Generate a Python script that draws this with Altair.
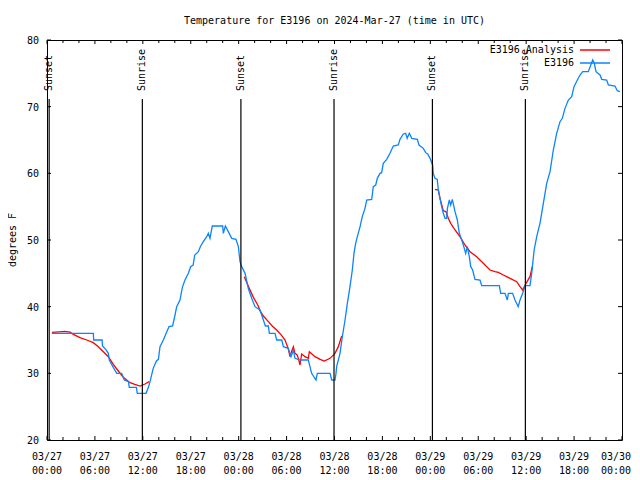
import altair as alt
import pandas as pd

# ---------------- data ----------------
obs_hours = [0.6, 5.8, 5.85, 6.9, 6.95, 7.35, 7.68, 7.8, 8.3, 8.73, 9.35, 9.68, 10.2, 10.3, 11.2, 11.3,
             12.4, 12.7, 12.9, 13.3, 13.7, 13.95, 14.15, 14.57, 15.0, 15.28, 15.73, 16.03, 16.24, 16.65,
             16.95, 17.28, 17.7, 17.99, 18.3, 18.5, 18.95, 19.24, 19.57, 20.0, 20.2, 20.41, 20.7, 22.0,
             22.08, 22.33, 22.7, 23.13, 23.66, 23.96, 24.17, 24.38, 24.8, 25.2, 25.63, 26.05, 26.67,
             27.09, 27.35, 27.72, 27.84, 28.55, 28.76, 29.4, 29.6, 30.2, 30.55, 30.85, 31.05, 31.68,
             32.72, 33.14, 33.68, 33.85, 35.44, 35.65, 36.06, 36.19, 36.27, 36.69, 36.98, 37.32, 37.61,
             37.94, 38.23, 38.44, 38.65, 38.86, 39.2, 39.48, 39.82, 40.03, 40.66, 40.86, 41.16, 41.36,
             41.7, 41.9, 42.11, 42.54, 42.95, 43.36, 43.99, 44.2, 44.62, 44.91, 45.1, 45.37, 45.67,
             46.37, 46.58, 47.12, 47.42, 47.67, 47.96, 48.29, 48.37, 48.58, 48.87, 49.0, 49.21, 49.42,
             49.62, 49.84, 50.05, 50.14, 50.38, 50.55, 50.76, 51.09, 51.38, 51.63, 51.93, 52.13, 52.43,
             52.63, 52.88, 53.06, 53.3, 53.59, 54.22, 54.43, 56.64, 56.81, 57.35, 57.64, 57.77, 58.3,
             58.6, 59.0, 59.23, 59.56, 59.85, 60.48, 60.69, 61.0, 61.32, 61.73, 62.15, 62.57, 62.99,
             63.4, 63.82, 64.24, 64.53, 64.86, 65.28, 65.7, 65.99, 66.41, 66.74, 67.08, 67.78, 68.33,
             68.53, 68.75, 69.25, 69.46, 70.08, 70.29, 71.12, 71.41, 71.74]
obs_temps = [36.0, 36.0, 35.0, 35.0, 34.1, 33.6, 33.0, 32.0, 30.9, 30.0, 30.0, 29.0, 28.75, 27.9, 27.9, 27.0,
             27.0, 27.9, 28.75, 30.75, 31.85, 32.1, 34.0, 35.0, 36.25, 37.0, 37.1, 38.75, 40.0, 41.0,
             42.9, 44.0, 45.0, 46.0, 46.25, 47.75, 48.25, 49.1, 49.75, 50.5, 51.0, 50.25, 52.1, 52.1,
             51.0, 52.1, 51.25, 50.25, 50.1, 49.0, 46.75, 46.0, 45.0, 42.75, 41.25, 40.0, 39.5,
             38.0, 37.1, 37.1, 36.0, 36.0, 35.0, 35.0, 34.0, 33.75, 32.5, 33.5, 32.25, 32.0,
             32.0, 30.0, 29.0, 30.0, 30.0, 29.0, 29.0, 30.0, 31.0, 33.0, 35.5, 38.0, 40.5,
             43.0, 45.5, 48.0, 49.5, 50.5, 52.0, 53.5, 54.75, 56.0, 56.1, 58.0, 58.25, 59.25,
             60.0, 60.1, 61.5, 62.1, 63.0, 64.1, 64.25, 65.1, 65.9, 66.0, 65.25, 66.0, 65.25,
             65.1, 64.25, 63.75, 63.1, 62.9, 62.25, 61.25, 60.0, 59.25, 59.1, 57.5, 56.25, 55.0,
             54.0, 53.25, 53.25, 54.75, 56.0, 55.25, 56.1, 54.25, 53.0, 51.0, 50.0, 49.25, 48.0,
             49.0, 47.5, 46.0, 45.5, 44.1, 44.0, 43.15, 43.15, 42.0, 42.0, 41.0, 42.0, 42.0,
             41.0, 40.0, 41.0, 42.0, 43.15, 43.15, 45.0, 48.5, 50.5, 52.5, 55.5, 58.5, 60.25,
             63.5, 66.0, 67.75, 68.25, 69.75, 71.0, 71.5, 73.0, 74.0, 74.75, 75.25, 75.25, 77.0,
             76.5, 75.25, 74.75, 74.1, 74.0, 73.25, 73.1, 72.4, 72.25]

ana1_hours = [0.63, 2.25, 2.88, 3.3, 4.13, 4.97, 5.8, 6.42, 7.05, 7.68, 8.3, 8.93, 9.55, 10.4, 11.0,
              11.65, 12.27, 12.8]
ana1_temps = [36.15, 36.3, 36.2, 35.85, 35.35, 35.0, 34.6, 34.0, 33.25, 32.5, 31.35, 30.35, 29.4, 28.6,
              28.35, 28.1, 28.4, 28.75]
ana2_hours = [24.7, 25.2, 25.84, 26.46, 26.67, 27.09, 27.72, 28.2, 28.76, 29.3, 29.8, 30.2, 30.43, 30.6,
              30.85, 31.05, 31.3, 31.47, 31.68, 31.89, 32.3, 32.72, 32.85, 33.56, 34.2, 34.72, 35.44,
              36.06, 36.48, 36.9]
ana2_temps = [44.5, 43.1, 41.4, 40.1, 39.4, 38.6, 37.75, 37.1, 36.5, 35.8, 35.0, 33.75, 32.5, 33.2,
              34.0, 33.0, 32.8, 32.25, 31.25, 32.9, 32.5, 32.25, 33.25, 32.5, 32.1, 31.85, 32.25,
              33.0, 34.0, 35.6]
ana3_hours = [48.58, 49.0, 49.21, 49.62, 49.96, 50.25, 50.55, 51.09, 51.71, 52.34, 52.97, 53.8, 54.63,
              55.47, 56.1, 56.51, 57.14, 57.98, 58.82, 59.23, 59.56, 59.98, 60.48, 60.77]
ana3_temps = [57.6, 57.5, 56.25, 54.4, 54.25, 53.25, 52.5, 51.5, 50.5, 49.25, 48.25, 47.5, 46.5,
              45.5, 45.25, 45.15, 44.75, 44.25, 43.75, 43.0, 42.5, 43.5, 44.5, 46.0]

sun_labels = ["Sunset", "Sunrise", "Sunset", "Sunrise", "Sunset", "Sunrise"]
sun_hours = [0.27, 11.94, 24.28, 35.94, 48.26, 59.9]

x_major = list(range(0, 73, 6))
x_minor = [h for h in range(0, 73, 2) if h % 6 != 0]
y_major = list(range(20, 81, 10))

series_names = ["E3196 Analysis", "E3196"]
series_colors = ["#ff0000", "#0a84ff"]

title_text = "Temperature for E3196 on 2024-Mar-27 (time in UTC)"
y_title = "degrees F"

# ---------------- tables ----------------
obs = pd.DataFrame({"h": obs_hours, "t": obs_temps, "series": "E3196", "seg": 0})
ana = pd.concat([
    pd.DataFrame({"h": ana1_hours, "t": ana1_temps, "seg": 1}),
    pd.DataFrame({"h": ana2_hours, "t": ana2_temps, "seg": 2}),
    pd.DataFrame({"h": ana3_hours, "t": ana3_temps, "seg": 3}),
])
ana["series"] = "E3196 Analysis"
lines_df = pd.concat([ana, obs], ignore_index=True)

sun = pd.DataFrame({"h": sun_hours, "label": sun_labels})
xmaj = pd.DataFrame({"h": x_major})
xmin_ = pd.DataFrame({"h": x_minor})
ymaj = pd.DataFrame({"t": y_major})

W, H = 575, 400
FONT = "DejaVu Sans Mono"
XMAX = x_major[-1]

xscale = alt.Scale(domain=[0, 72], nice=False, zero=False)
yscale = alt.Scale(domain=[20, 80], nice=False, zero=False)

X = lambda: alt.X("h:Q", scale=xscale, axis=None)
Y = lambda: alt.Y("t:Q", scale=yscale, axis=None)

lines = alt.Chart(lines_df).mark_line(strokeWidth=1.3, interpolate="linear").encode(
    x=X(),
    y=Y(),
    color=alt.Color("series:N", scale=alt.Scale(domain=series_names, range=series_colors),
                    legend=alt.Legend(title=None, orient="none", legendX=541, legendY=3,
                                      padding=0, offset=0,
                                      symbolType="M-2.5,0H2.5", symbolSize=144,
                                      symbolStrokeWidth=1.5,
                                      labelAlign="right", labelOffset={"expr": "-28"},
                                      labelFont=FONT, labelFontSize=10, labelColor="black",
                                      rowPadding=1)),
    detail="seg:N",
    order=alt.Order("h:Q"),
)

sun_rules = alt.Chart(sun).mark_rule(color="black", strokeWidth=1.2).encode(
    x=X(), y=alt.value(59), y2=alt.value(H),
)
sun_text = alt.Chart(sun).mark_text(angle=270, align="left", baseline="middle", font=FONT,
                                    fontSize=10, color="black").encode(
    x=X(), y=alt.value(51), text="label:N",
)

tick_style = dict(color="black", strokeWidth=1)
xb_major = alt.Chart(xmaj).mark_rule(**tick_style).encode(x=X(), y=alt.value(H), y2=alt.value(H - 4))
xt_major = alt.Chart(xmaj).mark_rule(**tick_style).encode(x=X(), y=alt.value(0), y2=alt.value(4))
xb_minor = alt.Chart(xmin_).mark_rule(**tick_style).encode(x=X(), y=alt.value(H), y2=alt.value(H - 3))
xt_minor = alt.Chart(xmin_).mark_rule(**tick_style).encode(x=X(), y=alt.value(0), y2=alt.value(3))
yl = alt.Chart(ymaj).mark_rule(**tick_style).encode(y=Y(), x=alt.value(0), x2=alt.value(4))
yr = alt.Chart(ymaj).mark_rule(**tick_style).encode(y=Y(), x=alt.value(W), x2=alt.value(W - 4))

# tick labels (from the tick lists)
txt = dict(font=FONT, fontSize=10, color="black", baseline="middle")
xlab = alt.Chart(xmaj).transform_calculate(
    line1="'03/' + (27 + floor(datum.h / 24))",
    line2="(datum.h % 24 < 10 ? '0' : '') + (datum.h % 24) + ':00'",
)
xlab_mid = xlab.transform_filter(f"datum.h < {XMAX}")
xlab_end = xlab.transform_filter(f"datum.h >= {XMAX}")
xlab1 = xlab_mid.mark_text(align="center", **txt).encode(x=X(), y=alt.value(H + 17), text="line1:N")
xlab2 = xlab_mid.mark_text(align="center", **txt).encode(x=X(), y=alt.value(H + 31), text="line2:N")
xlab1e = xlab_end.mark_text(align="right", dx=9, **txt).encode(x=X(), y=alt.value(H + 17), text="line1:N")
xlab2e = xlab_end.mark_text(align="right", dx=9, **txt).encode(x=X(), y=alt.value(H + 31), text="line2:N")
ylab = alt.Chart(ymaj).mark_text(align="right", dy=1, **txt).encode(
    y=Y(), x=alt.value(-8), text=alt.Text("t:Q", format="d"))
ytitle = alt.Chart(pd.DataFrame({"label": [y_title]})).mark_text(
    angle=270, align="center", **txt).encode(
    x=alt.value(-34), y=alt.value(H / 2), text="label:N")

chart = alt.layer(
    lines, sun_rules, sun_text, xb_major, xt_major, xb_minor, xt_minor, yl, yr,
    xlab1, xlab2, xlab1e, xlab2e, ylab, ytitle
).properties(
    width=W, height=H,
    title=alt.Title(title_text, font=FONT, fontSize=10, fontWeight="normal", color="black",
                    anchor="middle", offset=10, frame="group"),
    autosize=alt.AutoSizeParams(type="none"),
    padding={"left": 39, "top": 32, "right": 10, "bottom": 38},
    background="white",
).configure_view(stroke="black", strokeWidth=1)

chart.save("out.html", embed_options={"renderer": "svg", "actions": False})
